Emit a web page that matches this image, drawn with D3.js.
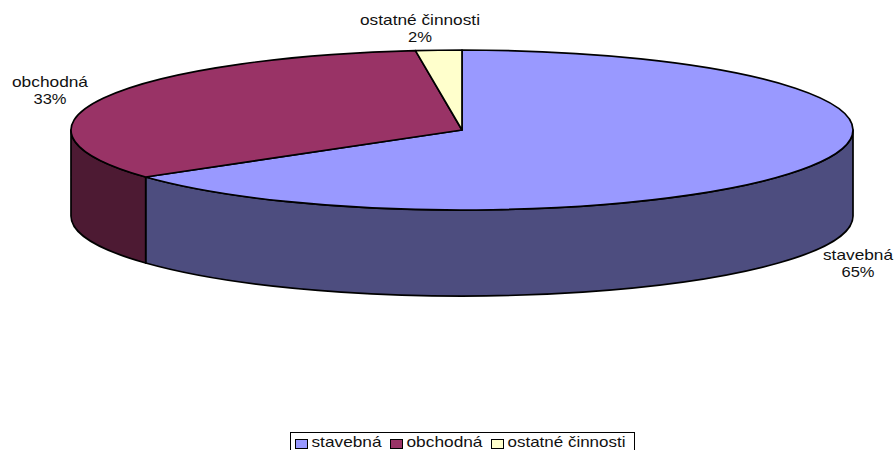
<!DOCTYPE html>
<html>
<head>
<meta charset="utf-8">
<script src="https://cdn.jsdelivr.net/npm/d3@7/dist/d3.min.js"></script>
<style>
 html, body { margin: 0; padding: 0; background: #fff; overflow: hidden; }
 text { font-family: "Liberation Sans", Arial, sans-serif; font-size: 14.5px; fill: #111; }
</style>
</head>
<body>
<div id="chart"></div>
<script>
const categories = ["stavebná", "obchodná", "ostatné činnosti"];
const shares = [65, 33.1, 1.9];
const topColors = ["#9999ff", "#993366", "#ffffcc"];
const sideColors = ["#4d4d7f", "#4d1a33", "#808066"];

const width = 896;
const height = 450;
const cx = 462;
const cy = 130;
const rx = 391;
const ry = 80;
const depth = 86;

const svg = d3
 .select("#chart")
 .append("svg")
 .attr("width", width)
 .attr("height", height)
 .style("display", "block");

const slices = d3
 .pie()
 .sort(null)
 .value((d) => d)(shares);

// point on the rim, angle clockwise from the top
const rim = (a, dy = 0) => [cx + rx * Math.sin(a), cy - ry * Math.cos(a) + dy];

function topPath(d) {
 const p0 = rim(d.startAngle);
 const p1 = rim(d.endAngle);
 const large = d.endAngle - d.startAngle > Math.PI ? 1 : 0;
 return `M${cx},${cy}L${p0}A${rx},${ry} 0 ${large} 1 ${p1}Z`;
}

function sidePath(d) {
 // only the front half of the cylinder can be seen
 const a0 = Math.max(d.startAngle, Math.PI / 2);
 const a1 = Math.min(d.endAngle, (3 * Math.PI) / 2);
 if (a1 <= a0) return null;
 const large = a1 - a0 > Math.PI ? 1 : 0;
 return (
  `M${rim(a0)}A${rx},${ry} 0 ${large} 1 ${rim(a1)}` +
  `L${rim(a1, depth)}A${rx},${ry} 0 ${large} 0 ${rim(a0, depth)}Z`
 );
}

svg
 .selectAll(".side")
 .data(slices)
 .enter()
 .append("path")
 .attr("class", "side")
 .attr("d", sidePath)
 .attr("fill", (d, i) => sideColors[i])
 .attr("stroke", "#000")
 .attr("stroke-width", 1.7)
 .attr("stroke-linejoin", "round");

svg
 .selectAll(".top")
 .data(slices)
 .enter()
 .append("path")
 .attr("class", "top")
 .attr("d", topPath)
 .attr("fill", (d, i) => topColors[i])
 .attr("stroke", "#000")
 .attr("stroke-width", 1.7)
 .attr("stroke-linejoin", "round");

// slice labels
const labelAnchors = [[858, 260], [50, 87], [420, 25]];
const labelWidths = [70, 76, 120];
const percentWidths = [33, 33, 24];

labelAnchors.forEach((pos, i) => {
 const label = svg
  .append("g")
  .attr("transform", `translate(${pos[0]},${pos[1]})`)
  .attr("text-anchor", "middle");
 label
  .append("text")
  .attr("textLength", labelWidths[i])
  .attr("lengthAdjust", "spacingAndGlyphs")
  .text(categories[i]);
 label
  .append("text")
  .attr("y", 17)
  .attr("textLength", percentWidths[i])
  .attr("lengthAdjust", "spacingAndGlyphs")
  .text(Math.round(shares[i]) + "%");
});

// legend, cut off by the bottom edge like the original
const legend = svg.append("g").attr("transform", "translate(290.5,432.5)");
legend
 .append("rect")
 .attr("width", 344)
 .attr("height", 30)
 .attr("fill", "#fff")
 .attr("stroke", "#000")
 .attr("stroke-width", 1);

const legendX = [5, 100, 201];
const legendWidths = [70, 76, 118];

categories.forEach((name, i) => {
 legend
  .append("rect")
  .attr("x", legendX[i])
  .attr("y", 7)
  .attr("width", 12)
  .attr("height", 9)
  .attr("fill", topColors[i])
  .attr("stroke", "#000")
  .attr("stroke-width", 1);
 legend
  .append("text")
  .attr("x", legendX[i] + 16)
  .attr("y", 14.3)
  .attr("textLength", legendWidths[i])
  .attr("lengthAdjust", "spacingAndGlyphs")
  .text(name);
});
</script>
</body>
</html>
